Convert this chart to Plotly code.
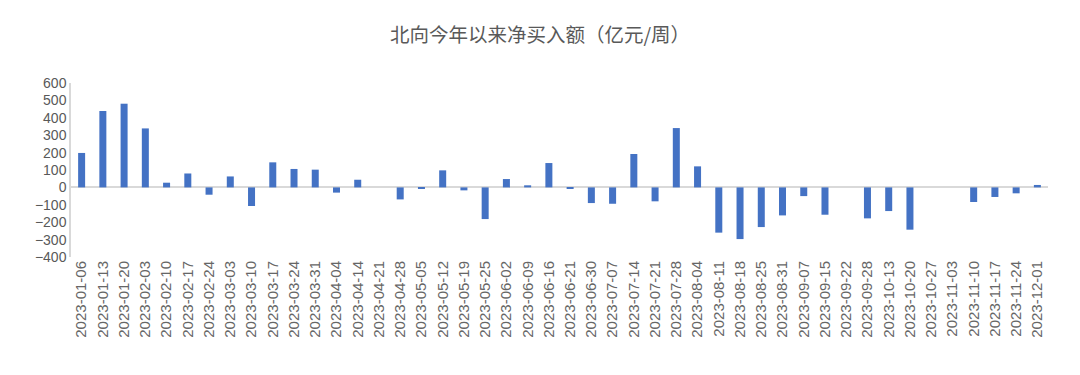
import plotly.graph_objects as go

dates = ["2023-01-06","2023-01-13","2023-01-20","2023-02-03","2023-02-10","2023-02-17","2023-02-24",
         "2023-03-03","2023-03-10","2023-03-17","2023-03-24","2023-03-31","2023-04-04","2023-04-14",
         "2023-04-21","2023-04-28","2023-05-05","2023-05-12","2023-05-19","2023-05-25","2023-06-02",
         "2023-06-09","2023-06-16","2023-06-21","2023-06-30","2023-07-07","2023-07-14","2023-07-21",
         "2023-07-28","2023-08-04","2023-08-11","2023-08-18","2023-08-25","2023-08-31","2023-09-07",
         "2023-09-15","2023-09-22","2023-09-28","2023-10-13","2023-10-20","2023-10-27","2023-11-03",
         "2023-11-10","2023-11-17","2023-11-24","2023-12-01"]
net_buy = [198, 439, 481, 339, 27, 80, -42, 63, -107, 144, 106, 102, -30, 44,
           0, -69, -5, 98, -17, -182, 48, 12, 140, -5, -90, -94, 192, -80,
           341, 121, -260, -297, -228, -161, -50, -157, 0, -178, -136, -243,
           0, 0, -84, -55, -34, 14]
y_ticks = [-400, -300, -200, -100, 0, 100, 200, 300, 400, 500, 600]

fig = go.Figure(go.Bar(x=dates, y=net_buy, marker=dict(color="#4472C4", line=dict(width=0)),
                       showlegend=False))

fig.update_layout(
    width=1080, height=375,
    margin=dict(l=71, r=32, t=83, b=118),
    paper_bgcolor="white", plot_bgcolor="white",
    bargap=0.67,
    title=dict(text="北向今年以来净买入额（亿元/周）", x=0.5, xanchor="center", y=0.905, yanchor="middle",
               font=dict(family="Noto Sans CJK SC", size=19.5, color="#595959")),
    font=dict(family="Liberation Sans, Arial", color="#595959"),
)
fig.update_xaxes(type="category", tickangle=-90, tickfont=dict(size=15, color="#666666"),
                 showline=False, showgrid=False, ticks="", automargin=False)
fig.update_yaxes(range=[-400, 600], tickvals=y_ticks, tickfont=dict(size=14, color="#595959"),
                 showgrid=False, zeroline=True, zerolinecolor="#D9D9D9", zerolinewidth=2,
                 showline=True, linecolor="#D9D9D9", linewidth=1.5, ticks="", automargin=False)

fig.write_html("out.html")
